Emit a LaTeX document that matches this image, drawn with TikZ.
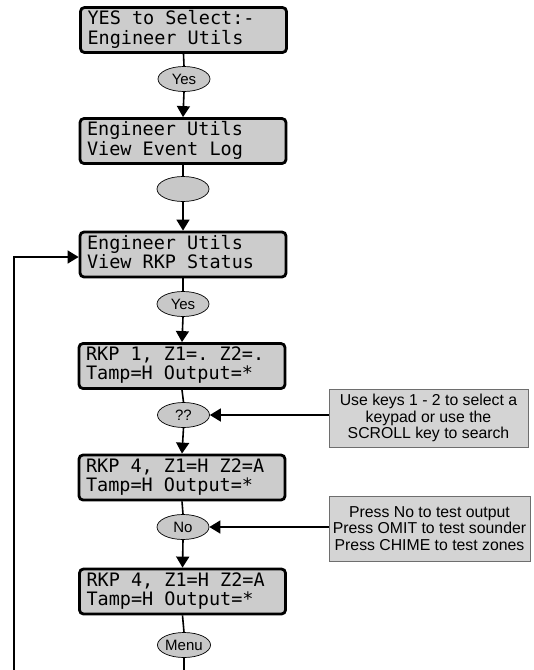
\documentclass[tikz,border=0pt]{standalone}
\usepackage{fontspec}
\setmainfont{Liberation Sans}
\newfontfamily\lcdfont{DejaVu Sans Mono}
\newcommand\lcdsetup{\lcdfont\fontsize{18.5}{17}\selectfont\frenchspacing
  \fontdimen2\font=0.602em \fontdimen3\font=0pt \fontdimen4\font=0pt \fontdimen7\font=0pt}
\newcommand\lcdtext[2]{\begin{tabular}{@{}l@{}}\makebox[192pt][l]{#1}\\\makebox[192pt][l]{#2}\end{tabular}}
\usetikzlibrary{shapes.geometric,arrows.meta}
\definecolor{lcdgray}{HTML}{CCCCCC}
\definecolor{keygray}{HTML}{C8C8C8}
\definecolor{notegray}{HTML}{D4D4D4}
\definecolor{noteborder}{HTML}{6E6E6E}
\begin{document}
\begin{tikzpicture}[x=1pt,y=-1pt,
  lcd/.style={draw=black, line width=2.8pt, rounded corners=4pt, fill=lcdgray,
    minimum width=206pt, minimum height=45pt,
    inner xsep=0pt, inner ysep=0pt, font=\lcdsetup},
  key/.style={ellipse, draw=black, line width=0.7pt, fill=keygray,
    minimum width=52pt, minimum height=25pt, inner sep=0pt,
    font=\fontsize{15}{16}\selectfont},
  note/.style={draw=noteborder, line width=0.9pt, fill=notegray, align=center,
    inner sep=0pt, font=\fontsize{15.8}{16.5}\selectfont},
  arr/.style={-{Triangle[length=11pt,width=13pt]}, line width=1.6pt},
  ln/.style={line width=1.6pt}]
\useasboundingbox (0,0) rectangle (534,670);

\node[lcd] (b1) at (183.5,30) {\lcdtext{YES to Select:-}{Engineer Utils}};
\node[key] (k1) at (184,79) {Yes};
\node[lcd] (b2) at (183,141) {\lcdtext{Engineer Utils}{View Event Log}};
\node[key] (k2) at (183,189) {};
\node[lcd] (b3) at (183,254.5) {\lcdtext{Engineer Utils}{View RKP Status}};
\node[key] (k3) at (183,304) {Yes};
\node[lcd] (b4) at (182,366) {\lcdtext{RKP 1, Z1=. Z2=.}{Tamp=H Output=*}};
\node[key] (k4) at (183.5,415) {??};
\node[lcd] (b5) at (182,477.5) {\lcdtext{RKP 4, Z1=H Z2=A}{Tamp=H Output=*}};
\node[key] (k5) at (183,527) {No};
\node[lcd] (b6) at (182.5,591.5) {\lcdtext{RKP 4, Z1=H Z2=A}{Tamp=H Output=*}};
\node[key] (k6) at (184,645) {Menu};

\node[note, minimum width=199pt, minimum height=58pt] (n1) at (428.5,418)
  {Use keys 1 - 2 to select a\\keypad or use the\\SCROLL key to search};
\node[note, minimum width=201pt, minimum height=65pt] (n2) at (429.5,528.5)
  {Press No to test output\\Press OMIT to test sounder\\Press CHIME to test zones};

\coordinate (lb) at (14,670);
\coordinate (mb) at (184,670);

\draw[ln] (b1.south) -- (k1.north);
\draw[arr] (k1.south) -- (b2.north);
\draw[ln] (b2.south) -- (k2.north);
\draw[arr] (k2.south) -- (b3.north);
\draw[ln] (b3.south) -- (k3.north);
\draw[arr] (k3.south) -- (b4.north);
\draw[ln] (b4.south) -- (k4.north);
\draw[arr] (k4.south) -- (b5.north);
\draw[ln] (b5.south) -- (k5.north);
\draw[arr] (k5.south) -- (b6.north);
\draw[ln] (b6.south) -- (k6.north);
\draw[ln] (k6.south) -- (mb);

\draw[arr] (n1.west |- k4.east) -- (k4.east);
\draw[arr] (n2.west |- k5.east) -- (k5.east);
\draw[arr] (lb) |- ([yshift=-2.5pt]b3.west);
\end{tikzpicture}
\end{document}
